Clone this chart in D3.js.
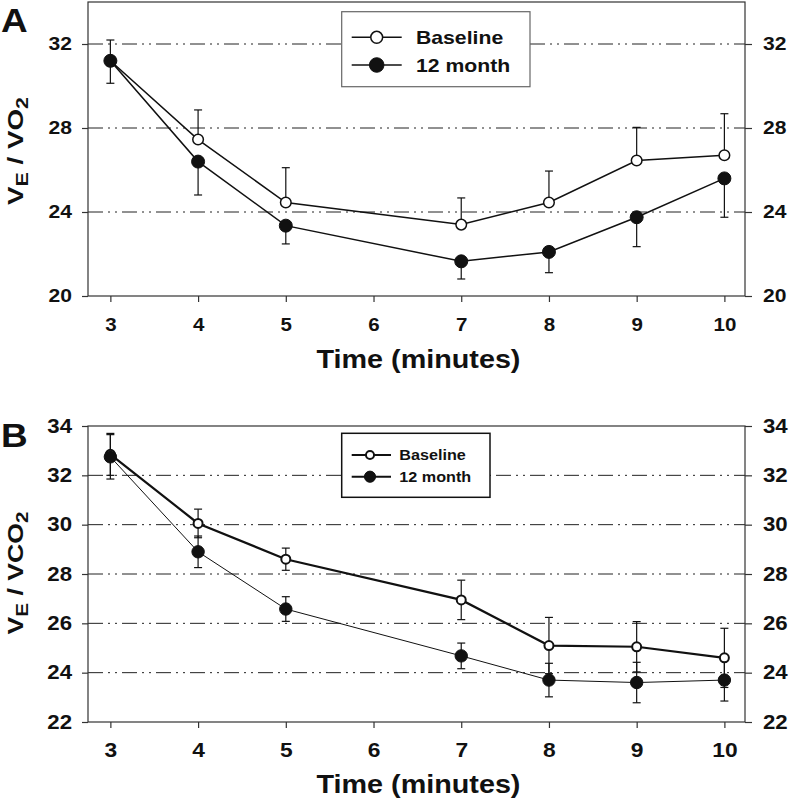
<!DOCTYPE html>
<html><head><meta charset="utf-8">
<script src="https://cdn.jsdelivr.net/npm/d3@7"></script>
<style>
html,body{margin:0;padding:0;background:#fff;}
svg{display:block;font-family:"Liberation Sans",Arial,sans-serif;font-weight:bold;}
</style></head>
<body>
<svg id="chart" width="792" height="806"></svg>
<script>
// ---- data ----
const times = [3, 4, 5, 7, 8, 9, 10];
const xTickValues = [3, 4, 5, 6, 7, 8, 9, 10];
const seriesNames = ["Baseline", "12 month"];

// Panel A : VE/VO2
const aBaseline = [31.2, 27.45, 24.45, 23.4, 24.45, 26.45, 26.7];
const aBaselineErr = [0.99, 1.41, 1.66, 1.27, 1.5, 1.58, 1.98];
const aMonth12 = [31.2, 26.4, 23.35, 21.65, 22.1, 23.75, 25.6];
const aMonth12Err = [1.07, 1.59, 0.87, 0.84, 0.99, 1.4, 1.85];
const aYTicks = [20, 24, 28, 32];
const aGrid = [24, 28, 32];

// Panel B : VE/VCO2
const bBaseline = [32.85, 30.05, 28.6, 26.95, 25.1, 25.05, 24.6];
const bBaselineErr = [0.85, 0.58, 0.45, 0.8, 1.14, 1.02, 1.2];
const bMonth12 = [32.75, 28.9, 26.58, 24.68, 23.7, 23.6, 23.7];
const bMonth12Err = [0.9, 0.64, 0.5, 0.52, 0.68, 0.82, 0.85];
const bYTicks = [22, 24, 26, 28, 30, 32, 34];
const bGrid = [24, 26, 28, 30, 32];

// ---- drawing ----
const svg = d3.select("#chart");
const INK = "#111";
const STRETCH = 1.14;
const x0 = 88, x1 = 745;
const x = d3.scaleLinear().domain([2.745, 10.235]).range([x0, x1]);

function stretch(sel, s) {
  sel.attr("transform", function () {
    const tx = +this.getAttribute("x") || 0;
    return `translate(${tx},0) scale(${s},1) translate(${-tx},0)`;
  });
}

function panel(o) {
  const g = svg.append("g");
  const y = d3.scaleLinear().domain(o.yDomain).range([o.bottom, o.top]);

  // gridlines
  g.append("g").selectAll("line").data(o.grid).join("line")
    .attr("x1", x0).attr("x2", x1)
    .attr("y1", d => y(d)).attr("y2", d => y(d))
    .attr("stroke", "#222").attr("stroke-width", 1)
    .attr("stroke-dasharray", "15,5,2,5,2,5");

  // frame
  g.append("rect").attr("x", x0).attr("y", o.top)
    .attr("width", x1 - x0).attr("height", o.bottom - o.top)
    .attr("fill", "none").attr("stroke", "#333").attr("stroke-width", 1.2);

  const fmt = d3.format("d");
  const axL = g.append("g").attr("transform", `translate(${x0},0)`)
    .call(d3.axisLeft(y).tickValues(o.yTicks).tickSize(6).tickSizeOuter(0).tickPadding(10).tickFormat(fmt));
  const axR = g.append("g").attr("transform", `translate(${x1},0)`)
    .call(d3.axisRight(y).tickValues(o.yTicks).tickSize(7).tickSizeOuter(0).tickPadding(11).tickFormat(fmt));
  const axB = g.append("g").attr("transform", `translate(0,${o.bottom})`)
    .call(d3.axisBottom(x).tickValues(xTickValues).tickSize(6).tickSizeOuter(0).tickPadding(o.xPad).tickFormat(fmt));
  [axL, axR, axB].forEach(a => {
    a.select(".domain").remove();
    a.selectAll(".tick line").attr("stroke", "#333").attr("stroke-width", 1.2);
    a.selectAll("text").attr("fill", INK).attr("font-family", "'Liberation Sans', Arial, sans-serif")
      .attr("font-weight", "bold");
  });
  axL.selectAll("text").attr("font-size", o.yTickFont);
  axR.selectAll("text").attr("font-size", o.yTickFont);
  axB.selectAll("text").attr("font-size", o.xTickFont);
  stretch(axL.selectAll("text"), STRETCH);
  stretch(axR.selectAll("text"), STRETCH);
  stretch(axB.selectAll("text"), STRETCH);

  // series
  const data = o.series.map(s => times.map((t, i) => ({ t, v: s.values[i], e: s.err[i] })));
  const line = d3.line().x(d => x(d.t)).y(d => y(d.v));
  o.series.forEach((s, k) => {
    g.append("path").datum(data[k]).attr("d", line)
      .attr("fill", "none").attr("stroke", INK).attr("stroke-width", s.lw);
  });
  // error bars
  o.series.forEach((s, k) => {
    const eb = g.append("g").attr("stroke", INK).attr("stroke-width", 1.2);
    data[k].forEach(d => {
      const hi = s.up ? d.v + d.e : d.v;
      const lo = s.down ? d.v - d.e : d.v;
      eb.append("line").attr("x1", x(d.t)).attr("x2", x(d.t)).attr("y1", y(hi)).attr("y2", y(lo));
      if (s.up) eb.append("line").attr("x1", x(d.t) - 4).attr("x2", x(d.t) + 4).attr("y1", y(hi)).attr("y2", y(hi));
      if (s.down) eb.append("line").attr("x1", x(d.t) - 4).attr("x2", x(d.t) + 4).attr("y1", y(lo)).attr("y2", y(lo));
    });
  });
  // markers
  o.series.forEach((s, k) => {
    g.append("g").selectAll("circle").data(data[k]).join("circle")
      .attr("cx", d => x(d.t)).attr("cy", d => y(d.v))
      .attr("r", s.r).attr("fill", s.fill).attr("stroke", INK).attr("stroke-width", s.sw);
  });

  // legend
  const L = o.legend;
  g.append("rect").attr("x", L.x).attr("y", L.y).attr("width", L.w).attr("height", L.h)
    .attr("fill", "#fff").attr("stroke", L.stroke).attr("stroke-width", L.sw);
  o.series.forEach((s, k) => {
    const ry = L.rows[k];
    g.append("line").attr("x1", L.lx1).attr("x2", L.lx2).attr("y1", ry).attr("y2", ry)
      .attr("stroke", INK).attr("stroke-width", L.lineW);
    g.append("circle").attr("cx", L.mx).attr("cy", ry).attr("r", s.r * L.rScale)
      .attr("fill", s.fill).attr("stroke", INK).attr("stroke-width", s.sw);
    const t = g.append("text").attr("x", L.tx).attr("y", ry).attr("dy", "0.36em")
      .attr("font-size", L.font).attr("fill", INK).text(seriesNames[k]);
    stretch(t, STRETCH);
  });

  // x title
  const xt = g.append("text").attr("x", 418.5).attr("y", o.xTitleY).attr("text-anchor", "middle")
    .attr("font-size", 25).attr("fill", INK).text("Time (minutes)");
  stretch(xt, 1.15);

  // y title (rotated, with subscripts)
  const yg = g.append("g").attr("transform", `translate(${o.yTitle.x},${o.yTitle.cy}) rotate(-90)`);
  const yt = yg.append("text").attr("text-anchor", "middle").attr("font-size", 22).attr("fill", INK);
  yt.append("tspan").text("V");
  yt.append("tspan").attr("font-size", 17).attr("dy", 5).text("E");
  yt.append("tspan").attr("dy", -5).text(o.yTitle.mid);
  yt.append("tspan").attr("font-size", 17).attr("dy", 5).text("2");
  const len = yt.node().getComputedTextLength();
  yt.attr("transform", `scale(${o.yTitle.len / len},1)`);

  // panel letter
  const pl = g.append("text").attr("x", 1).attr("y", o.letterY).attr("font-size", 33).attr("fill", INK).text(o.letter);
  stretch(pl, 1.12);
}

panel({
  letter: "A", letterY: 32,
  top: 2, bottom: 296, yDomain: [20, 34], yTicks: aYTicks, grid: aGrid,
  yTickFont: 18.5, xTickFont: 18, xPad: 16, xTitleY: 368,
  yTitle: { x: 23, cy: 151, len: 108, mid: " / VO" },
  series: [
    { values: aBaseline, err: aBaselineErr, up: true, down: false, fill: "#fff", r: 5.3, sw: 1.5, lw: 1.5 },
    { values: aMonth12, err: aMonth12Err, up: false, down: true, fill: INK, r: 6.5, sw: 1, lw: 1.5 }
  ],
  legend: { x: 341.7, y: 11.7, w: 188.3, h: 75, stroke: "#666", sw: 1.2, rows: [37.3, 65],
            lx1: 351.7, lx2: 401.7, mx: 376.7, tx: 416, font: 18.6, lineW: 1.5, rScale: 1.12 }
});

panel({
  letter: "B", letterY: 447,
  top: 426, bottom: 722, yDomain: [22, 34], yTicks: bYTicks, grid: bGrid,
  yTickFont: 19.5, xTickFont: 20, xPad: 15, xTitleY: 793,
  yTitle: { x: 23, cy: 573, len: 123, mid: " / VCO" },
  series: [
    { values: bBaseline, err: bBaselineErr, up: true, down: true, fill: "#fff", r: 4.5, sw: 2, lw: 2.2 },
    { values: bMonth12, err: bMonth12Err, up: true, down: true, fill: INK, r: 6.2, sw: 1, lw: 1 }
  ],
  legend: { x: 341.7, y: 433.3, w: 148.3, h: 64, stroke: "#111", sw: 1.5, rows: [455, 476.7],
            lx1: 351.7, lx2: 391, mx: 370, tx: 399.3, font: 14.2, lineW: 2, rScale: 0.9 }
});
</script>
</body></html>
